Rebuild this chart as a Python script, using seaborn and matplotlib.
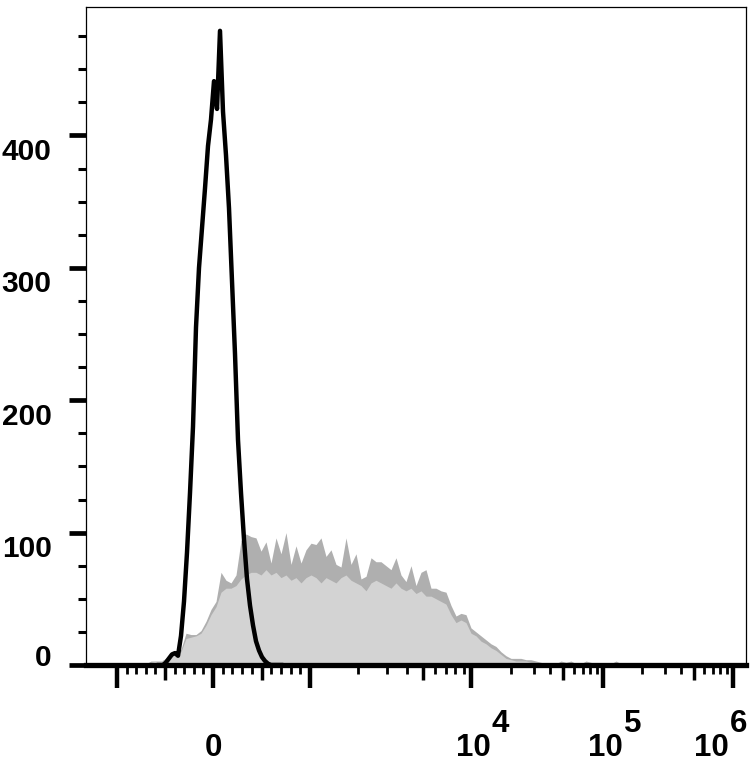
import numpy as np
import pandas as pd
import matplotlib
matplotlib.use('Agg')
import matplotlib.pyplot as plt
import matplotlib.transforms as mtransforms
import seaborn as sns

sns.set_style('white')
plt.rcParams['font.family'] = ['Liberation Sans', 'DejaVu Sans']
plt.rcParams['text.color'] = 'black'

# biex-like display scale: scale units -> display channel
scale_units = [-1, 0, 1, 2, 3, 4]
scale_channels = [31, 127, 224, 385, 517, 647]

# stained sample (grey), counts per display channel bin (bin width 5, from channel 60)
sample_start, sample_step = 60, 5
sample_peak = [1, 3, 3, 3, 5, 8, 9, 12, 24, 23,
               23, 26, 33, 42, 48, 70, 64, 62, 68, 94,
               99, 97, 96, 86, 93, 77, 96, 84, 100, 76,
               90, 77, 87, 92, 91, 96, 82, 87, 76, 74,
               96, 76, 84, 65, 67, 81, 78, 78, 75, 72,
               81, 68, 63, 75, 60, 70, 72, 58, 58, 56,
               55, 45, 37, 39, 38, 28, 25, 22, 19, 16,
               14, 10, 7, 5, 5, 5, 4, 4, 3, 2,
               1, 1, 1, 3, 2, 3, 1, 1, 3, 2,
               0, 0, 0, 1, 3, 1, 0]
sample_base = [1, 2, 3, 3, 4, 6, 8, 10, 20, 21,
               22, 24, 30, 38, 44, 55, 58, 58, 60, 65,
               68, 70, 70, 68, 72, 68, 70, 66, 68, 64,
               66, 62, 66, 68, 66, 62, 66, 64, 62, 66,
               68, 64, 62, 60, 56, 62, 64, 62, 60, 58,
               62, 58, 56, 58, 54, 56, 52, 52, 50, 48,
               46, 38, 32, 34, 32, 24, 22, 18, 16, 13,
               11, 8, 5, 4, 3, 3, 3, 2, 2, 1,
               1, 0, 0, 1, 1, 1, 0, 0, 1, 1,
               0, 0, 0, 0, 1, 0, 0]

# isotype control (black), bin width 3, from channel 71
control_start, control_step = 71, 3
control_counts = [0, 0, 0, 2, 5, 8, 9, 7, 22, 48,
                  85, 130, 180, 255, 300, 330, 360, 392, 412, 441,
                  420, 479, 418, 385, 345, 290, 235, 170, 130, 95,
                  65, 45, 30, 18, 11, 6, 3, 1, 0, 0,
                  0, 0, 0]

y_major = [0, 100, 200, 300, 400]
x_labels = [(0, None), (1e4, '4'), (1e5, '5'), (1e6, '6')]


def to_units(v):
    v = np.asarray(v, dtype=float)
    a = np.abs(v)
    lg = np.sign(v) * (1 + np.log10(np.maximum(a, 1e-9) / 1000.0))
    return np.where(a <= 1000, v / 1000.0, lg)


def to_channel(v):
    return np.interp(to_units(v), scale_units, scale_channels)


sample = pd.DataFrame({
    'channel': sample_start + sample_step * np.arange(len(sample_peak)),
    'peak': sample_peak,
    'base': sample_base,
})
control = pd.DataFrame({
    'channel': control_start + control_step * np.arange(len(control_counts)),
    'count': control_counts,
})

fig = plt.figure(figsize=(7.56, 7.65), dpi=100)
ax = fig.add_axes([86 / 756, 100 / 765, 660 / 756, 658 / 765])

ax.fill_between(sample['channel'], 0, sample['peak'], color='#afafaf', lw=0)
ax.fill_between(sample['channel'], 0, sample['base'], color='#d3d3d3', lw=0)
sns.lineplot(data=control, x='channel', y='count', color='black', linewidth=3.2,
             ax=ax, legend=False)

ax.set_xlim(0, 660)
ax.set_ylim(0, 497)
ax.set_xlabel('')
ax.set_ylabel('')

for side in ['left', 'top', 'right']:
    ax.spines[side].set_linewidth(0.9)
    ax.spines[side].set_color('black')
ax.spines['bottom'].set_linewidth(3.8)
ax.spines['bottom'].set_color('black')

# y ticks
ax.set_yticks(y_major)
ax.set_yticks([v for v in range(25, 500, 25) if v % 100], minor=True)
ax.tick_params(axis='y', which='major', direction='out', length=12, width=3.4,
               color='black', labelleft=False, left=True)
ax.tick_params(axis='y', which='minor', direction='out', length=6, width=2.2,
               color='black', left=True)

# x ticks
major_vals = [-1000, 0, 1000, 1e4, 1e5, 1e6]
mid_vals = [-500, 500, 5e3, 5e4, 5e5]
minor_vals = [s * k * 100 for s in (-1, 1) for k in range(1, 10) if k != 5]
minor_vals += [k * 10 ** n for n in (3, 4, 5) for k in range(2, 10) if k != 5]
ax.set_xticks(to_channel(major_vals))
ax.set_xticks(to_channel(minor_vals), minor=True)
ax.tick_params(axis='x', which='major', direction='out', length=16.5, width=3.2,
               color='black', labelbottom=False, bottom=True)
ax.tick_params(axis='x', which='minor', direction='out', length=6.5, width=2,
               color='black', bottom=True)
sec = ax.secondary_xaxis('bottom')
sec.set_xticks(to_channel(mid_vals))
sec.tick_params(direction='out', length=11, width=2.5, color='black',
                labelbottom=False)
sec.spines['bottom'].set_visible(False)

# tick labels in the cytometry style
ytrans = mtransforms.blended_transform_factory(ax.transAxes, ax.transData)
for v in y_major:
    dy = -17.5 if v else -0.5
    ax.text(-0.052, v, str(v), fontsize=21.5, fontweight='bold', color='black',
            ha='right', va='baseline',
            transform=mtransforms.offset_copy(ytrans, fig=fig, y=dy, units='points'))

xtrans = mtransforms.blended_transform_factory(ax.transData, ax.transAxes)
for v, exp in x_labels:
    pos = float(to_channel(v))
    if exp is None:
        ax.text(pos, -0.138, '0', fontsize=22.5, fontweight='bold', color='black',
                ha='center', va='baseline', transform=xtrans)
        continue
    shift = -22 if v >= 1e6 else 2
    ax.text(pos + shift, -0.138, '10', fontsize=22.5, fontweight='bold',
            color='black', ha='center', va='baseline', transform=xtrans)
    ax.text(pos + shift + 19, -0.102, exp, fontsize=22.5, fontweight='bold',
            color='black', ha='left', va='baseline', transform=xtrans)

fig.savefig('out.png', dpi=100)
